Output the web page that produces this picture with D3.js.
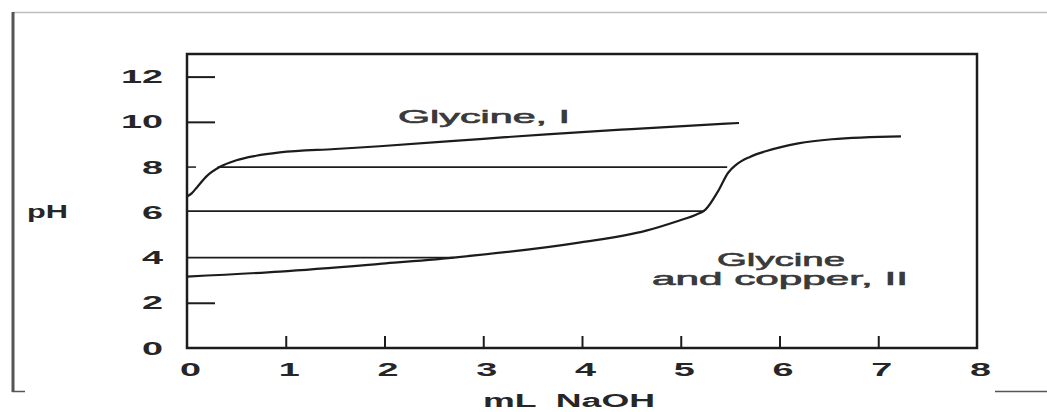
<!DOCTYPE html>
<html>
<head>
<meta charset="utf-8">
<script src="https://cdn.jsdelivr.net/npm/d3@7/dist/d3.min.js"></script>
<style>
  html, body { margin: 0; padding: 0; background: #fff; }
  svg { display: block; }
  text { white-space: pre; }
</style>
</head>
<body>
<svg id="chart" width="1047" height="412"></svg>
<script>
// ---- data ----
const glycineX  = [0, 0.05, 0.1, 0.2, 0.33, 0.5, 0.7, 0.94, 1.5, 1.95, 3.0, 3.64, 4.5, 5.59];
const glycinePH = [6.7, 6.85, 7.1, 7.6, 8.0, 8.3, 8.5, 8.65, 8.8, 8.92, 9.25, 9.45, 9.68, 9.95];

const copperX  = [0, 0.94, 1.95, 2.7, 3.97, 4.65, 4.98, 5.16, 5.25, 5.38, 5.48, 5.56, 5.7, 5.86, 6.19, 6.53, 7.23];
const copperPH = [3.16, 3.38, 3.72, 4.0, 4.66, 5.19, 5.63, 5.9, 6.12, 6.95, 7.75, 8.1, 8.45, 8.7, 9.05, 9.23, 9.36];

// horizontal reference levels: pH, start mL, end mL
const refPH   = [8.0, 6.05, 4.0];
const refFrom = [0.31, 0, 0];
const refTo   = [5.47, 5.24, 2.7];

const xTickLabels = [0, 1, 2, 3, 4, 5, 6, 7, 8];
const xTickMarks  = [1, 2, 3, 4, 5, 6, 7];
const yTickLabels = [0, 2, 4, 6, 8, 10, 12];
const yTickMarks  = [2, 10, 12];

const seriesLabels = ["Glycine, I", "Glycine", "and copper, II"];
const xTitle = "mL  NaOH";
const yTitle = "pH";

// ---- drawing ----
const svg = d3.select("#chart");
const ink = "#1c1c1c";
const x = d3.scaleLinear().domain([0, 8]).range([187, 977]);
const y = d3.scaleLinear().domain([0, 13]).range([348, 54]);

// page decorations (scan edges)
svg.append("line").attr("x1", 13).attr("x2", 1047).attr("y1", 12.5).attr("y2", 12.5)
  .attr("stroke", "#bdbdbd").attr("stroke-width", 1.5);
svg.append("line").attr("x1", 13).attr("x2", 13).attr("y1", 12).attr("y2", 392)
  .attr("stroke", "#555").attr("stroke-width", 3);
svg.append("line").attr("x1", 12).attr("x2", 25).attr("y1", 391.5).attr("y2", 391.5)
  .attr("stroke", "#555").attr("stroke-width", 1.5);
svg.append("line").attr("x1", 995).attr("x2", 1047).attr("y1", 391.5).attr("y2", 391.5)
  .attr("stroke", "#555").attr("stroke-width", 1.5);

// frame
svg.append("rect")
  .attr("x", x(0)).attr("y", y(13))
  .attr("width", x(8) - x(0)).attr("height", y(0) - y(13))
  .attr("fill", "none").attr("stroke", ink).attr("stroke-width", 2.5);

// inward x ticks
const xTicks = svg.append("g").attr("transform", `translate(0,${y(0)})`)
  .call(d3.axisBottom(x).tickValues(xTickMarks).tickSize(-12).tickFormat(""));
xTicks.select(".domain").remove();
xTicks.selectAll("line").attr("stroke", ink).attr("stroke-width", 2);

// inward y ticks
const yTicks = svg.append("g").attr("transform", `translate(${x(0)},0)`)
  .call(d3.axisLeft(y).tickValues(yTickMarks).tickSize(-28).tickFormat(""));
yTicks.select(".domain").remove();
yTicks.selectAll("line").attr("stroke", ink).attr("stroke-width", 2);
// short tick at 8
svg.append("line").attr("x1", x(0)).attr("x2", x(0) + 9).attr("y1", y(8)).attr("y2", y(8))
  .attr("stroke", ink).attr("stroke-width", 1.5);

// x tick labels
const xLab = svg.append("g").attr("transform", `translate(3,${y(0)})`)
  .call(d3.axisBottom(x).tickValues(xTickLabels).tickSize(0).tickFormat(d3.format("d")));
xLab.select(".domain").remove();
xLab.selectAll("text")
  .attr("x", 0).attr("y", 0).attr("dy", null)
  .attr("transform", "translate(0,28) scale(2.1,1)")
  .attr("font-family", "'Liberation Sans', Arial, sans-serif")
  .attr("font-weight", "bold").attr("font-size", 18).attr("fill", "#262626");

// y tick labels
const yLab = svg.append("g").attr("transform", `translate(${x(0)},0)`)
  .call(d3.axisLeft(y).tickValues(yTickLabels).tickSize(0).tickFormat(d3.format("d")));
yLab.select(".domain").remove();
yLab.selectAll("text")
  .attr("x", 0).attr("dy", null).attr("y", 0)
  .attr("transform", "translate(-24,6) scale(2.1,1)")
  .attr("text-anchor", "end")
  .attr("font-family", "'Liberation Sans', Arial, sans-serif")
  .attr("font-weight", "bold").attr("font-size", 18).attr("fill", "#262626");

// reference lines
svg.append("g").selectAll("line").data(refPH).join("line")
  .attr("x1", (d, i) => x(refFrom[i])).attr("x2", (d, i) => x(refTo[i]))
  .attr("y1", d => y(d)).attr("y2", d => y(d))
  .attr("stroke", ink).attr("stroke-width", 1.7);

// curves
const line = d3.line().x(d => x(d[0])).y(d => y(d[1])).curve(d3.curveMonotoneX);
svg.append("path").datum(glycineX.map((v, i) => [v, glycinePH[i]]))
  .attr("d", line).attr("fill", "none").attr("stroke", ink).attr("stroke-width", 2.2);
svg.append("path").datum(copperX.map((v, i) => [v, copperPH[i]]))
  .attr("d", line).attr("fill", "none").attr("stroke", ink).attr("stroke-width", 2.2);

// text labels
function label(txt, cx, by, len, weight, fill) {
  svg.append("text").text(txt)
    .attr("x", cx).attr("y", by)
    .attr("text-anchor", "middle")
    .attr("textLength", len).attr("lengthAdjust", "spacingAndGlyphs")
    .attr("font-family", "'Liberation Sans', Arial, sans-serif")
    .attr("font-weight", weight).attr("font-size", 18)
    .attr("fill", fill)
    .attr("stroke", weight === "normal" ? fill : "none")
    .attr("stroke-width", 0.6);
}
label(seriesLabels[0], 484, 123, 172, "normal", "#3a3a3a");
label(seriesLabels[1], 781, 266, 128, "normal", "#3a3a3a");
label(seriesLabels[2], 780, 285, 256, "normal", "#3a3a3a");
label(yTitle, 47.5, 218, 41, "bold", "#262626");
label(xTitle, 569, 407, 172, "bold", "#262626");
</script>
</body>
</html>
